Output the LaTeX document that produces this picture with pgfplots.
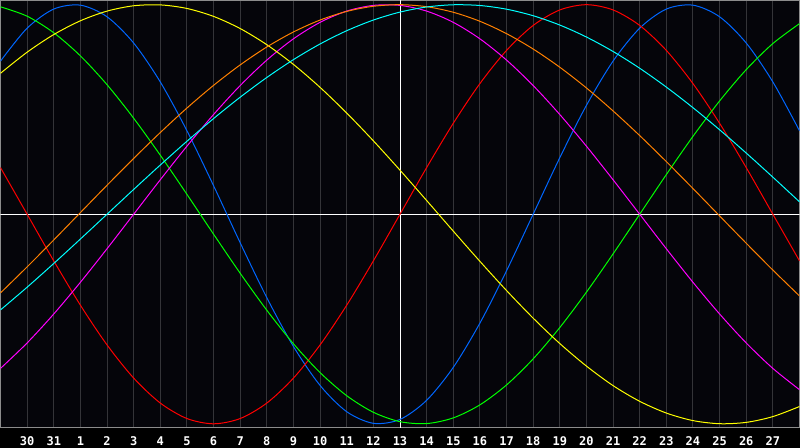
\documentclass[border=0pt]{standalone}
\usepackage{fontspec}
\setmainfont{DejaVu Sans Mono}
\usepackage{pgfplots}
\usepackage{pgfplotstable}
\pgfplotsset{compat=1.18}

\definecolor{plotbg}{RGB}{5,5,10}
\definecolor{gridgray}{RGB}{52,52,56}
\definecolor{framegray}{RGB}{140,140,140}
\definecolor{cblue}{RGB}{0,102,255}
\definecolor{cred}{RGB}{255,0,0}
\definecolor{cgreen}{RGB}{0,255,0}
\definecolor{cmagenta}{RGB}{255,0,255}
\definecolor{cyellow}{RGB}{255,255,0}
\definecolor{corange}{RGB}{255,128,0}
\definecolor{ccyan}{RGB}{0,255,255}

% t = day slot (t=15 is day 13), values per cycle
\pgfplotstableread{
t  blue    red     green   magenta yellow  orange  cyan
0  0.7308  0.2225  0.9898 -0.7357  0.6727 -0.3754 -0.4566
1  0.8879  0.0000  0.9450 -0.6142  0.7733 -0.2512 -0.3482
2  0.9791 -0.2225  0.8660 -0.4759  0.8575 -0.1227 -0.2349
3  0.9977 -0.4339  0.7557 -0.3247  0.9232  0.0079 -0.1183
4  0.9423 -0.6235  0.6182 -0.1646  0.9693  0.1383  0.0000
5  0.8170 -0.7818  0.4582  0.0000  0.9948  0.2664  0.1183
6  0.6313 -0.9010  0.2817  0.1646  0.9990  0.3899  0.2349
7  0.3984 -0.9749  0.0950  0.3247  0.9820  0.5068  0.3482
8  0.1362 -1.0000 -0.0950  0.4759  0.9441  0.6150  0.4566
9 -0.1362 -0.9749 -0.2817  0.6142  0.8861  0.7127  0.5586
10 -0.3984 -0.9010 -0.4582  0.7357  0.8090  0.7982  0.6527
11 -0.6313 -0.7818 -0.6182  0.8372  0.7148  0.8699  0.7378
12 -0.8170 -0.6235 -0.7557  0.9158  0.6053  0.9268  0.8126
13 -0.9423 -0.4339 -0.8660  0.9694  0.4829  0.9679  0.8758
14 -0.9977 -0.2225 -0.9450  0.9966  0.3504  0.9924  0.9267
15 -0.9791  0.0000 -0.9898  0.9966  0.2103  1.0000  0.9647
16 -0.8879  0.2225 -0.9989  0.9694  0.0656  0.9904  0.9890
17 -0.7308  0.4339 -0.9718  0.9158 -0.0804  0.9639  0.9996
18 -0.5196  0.6235 -0.9096  0.8372 -0.2246  0.9208  0.9961
19 -0.2698  0.7818 -0.8146  0.7357 -0.3640  0.8619  0.9785
20  0.0000  0.9010 -0.6901  0.6142 -0.4958  0.7884  0.9473
21  0.2698  0.9749 -0.5406  0.4759 -0.6170  0.7015  0.9028
22  0.5196  1.0000 -0.3717  0.3247 -0.7245  0.6027  0.8457
23  0.7308  0.9749 -0.1893  0.1646 -0.8178  0.4931  0.7767
24  0.8879  0.9010  0.0000  0.0000 -0.8927  0.3754  0.6967
25  0.9791  0.7818  0.1893 -0.1646 -0.9487  0.2512  0.6068
26  0.9977  0.6235  0.3717 -0.3247 -0.9847  0.1227  0.5085
27  0.9423  0.4339  0.5406 -0.4759 -0.9996 -0.0079  0.4031
28  0.8170  0.2225  0.6901 -0.6142 -0.9932 -0.1383  0.2920
29  0.6313  0.0000  0.8146 -0.7357 -0.9656 -0.2664  0.1769
30  0.3984 -0.2225  0.9096 -0.8372 -0.9175 -0.3899  0.0593
}\cycles

\begin{document}
\begin{tikzpicture}
\useasboundingbox (0,0) rectangle (400pt,224pt);
\fill[black] (0,0) rectangle (400pt,224pt);
\begin{axis}[
    at={(0.25pt,10pt)}, anchor=south west,
    scale only axis,
    width=399.5pt, height=213.75pt,
    xmin=0, xmax=30,
    ymin=-1.02, ymax=1.02,
    axis background/.style={fill=plotbg},
    axis line style={framegray, line width=0.5pt},
    xtick={1,...,29},
    xticklabels={30,31,1,2,3,4,5,6,7,8,9,10,11,12,13,14,15,16,17,18,19,20,21,22,23,24,25,26,27},
    ytick=\empty,
    major tick length=0pt,
    xmajorgrids,
    grid style={gridgray, line width=0.5pt},
    xticklabel style={font=\fontsize{6}{7}\selectfont\bfseries, text=white, yshift=-0.8pt},
    /pgf/number format/assume math mode=true,
    every axis plot/.append style={line width=0.5pt, no markers},
]
% white cross through today
\addplot [white] coordinates {(15,-1.02) (15,1.02)};
\addplot [white] coordinates {(0,0) (30,0)};

\addplot [cblue, smooth]    table [x=t, y=blue]    {\cycles};
\addplot [cred, smooth]     table [x=t, y=red]     {\cycles};
\addplot [cgreen, smooth]   table [x=t, y=green]   {\cycles};
\addplot [cmagenta, smooth] table [x=t, y=magenta] {\cycles};
\addplot [cyellow, smooth]  table [x=t, y=yellow]  {\cycles};
\addplot [corange, smooth]  table [x=t, y=orange]  {\cycles};
\addplot [ccyan, smooth]    table [x=t, y=cyan]    {\cycles};
\end{axis}
\end{tikzpicture}
\end{document}
